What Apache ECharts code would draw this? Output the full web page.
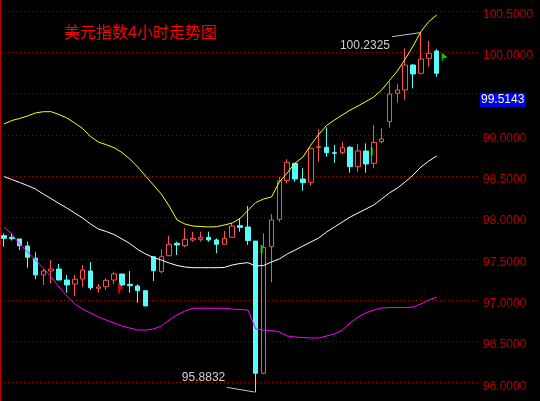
<!DOCTYPE html>
<html><head><meta charset="utf-8">
<script src="https://cdn.jsdelivr.net/npm/echarts@6/dist/echarts.min.js"></script>
<style>html,body{margin:0;padding:0;background:#000;}#c{width:540px;height:401px;}</style>
</head><body><div id="c"></div>
<script>
const titleText = '美元指数4小时走势图';
const yMin = 96, yMax = 100.5, yStep = 0.5;
const slotCount = 61; // 56 bars + empty space on the right
const categories = Array.from({length: slotCount}, (_, i) => String(i + 1));

const opens  = [97.780,97.760,97.740,97.655,97.506,97.304,97.352,97.376,97.243,97.195,97.255,97.352,97.143,97.162,97.243,97.316,97.191,97.171,97.114,97.525,97.344,97.537,97.688,97.659,97.728,97.736,97.760,97.728,97.676,97.760,97.901,97.885,97.715,96.114,97.646,97.978,98.446,98.656,98.466,98.426,98.850,98.850,98.785,98.785,98.850,98.615,98.805,98.656,98.918,99.160,99.504,99.544,99.846,99.746,99.927,100.016];
const closes = [97.748,97.743,97.659,97.518,97.304,97.352,97.376,97.243,97.183,97.252,97.364,97.150,97.159,97.240,97.316,97.183,97.174,97.114,96.929,97.356,97.525,97.676,97.667,97.736,97.748,97.760,97.728,97.676,97.748,97.897,97.881,97.722,96.114,97.639,97.970,98.442,98.668,98.466,98.421,98.838,98.857,98.785,98.777,98.845,98.615,98.805,98.648,98.910,98.950,99.495,99.544,99.846,99.737,99.919,99.988,99.746];
const lows   = [97.646,97.719,97.606,97.392,97.252,97.183,97.203,97.243,97.090,97.050,97.162,97.122,97.090,97.122,97.195,97.162,97.090,96.968,96.929,97.231,97.324,97.537,97.546,97.639,97.707,97.707,97.707,97.567,97.676,97.760,97.828,97.667,95.8832,96.102,97.215,97.949,98.414,98.433,98.324,98.385,98.676,98.736,98.663,98.765,98.542,98.554,98.542,98.596,98.898,99.087,99.390,99.423,99.564,99.734,99.826,99.705];
const highs  = [97.809,97.809,97.740,97.707,97.579,97.376,97.485,97.437,97.304,97.304,97.425,97.461,97.195,97.264,97.344,97.316,97.352,97.191,97.114,97.525,97.615,97.776,97.707,97.869,97.828,97.828,97.828,97.748,97.837,97.937,97.990,98.139,97.715,97.809,98.042,98.494,98.705,98.656,98.596,98.838,99.068,99.092,98.878,98.918,98.866,98.890,98.898,99.120,99.080,99.644,99.616,100.048,99.858,100.2325,100.137,100.036];

const upperBand  = [99.132,99.174,99.199,99.229,99.265,99.281,99.281,99.247,99.205,99.144,99.077,98.981,98.914,98.881,98.845,98.787,98.708,98.611,98.502,98.393,98.284,98.139,97.970,97.921,97.897,97.891,97.885,97.889,97.909,97.933,97.988,98.085,98.182,98.224,98.248,98.430,98.539,98.660,98.732,98.878,99.005,99.114,99.180,99.241,99.301,99.350,99.404,99.459,99.544,99.659,99.774,99.919,100.076,100.252,100.373,100.452];
const middleBand = [98.496,98.460,98.424,98.387,98.345,98.284,98.228,98.169,98.115,98.054,97.994,97.921,97.861,97.830,97.794,97.740,97.685,97.613,97.558,97.516,97.485,97.449,97.419,97.401,97.392,97.392,97.392,97.392,97.395,97.425,97.443,97.453,97.413,97.419,97.461,97.498,97.558,97.606,97.655,97.703,97.752,97.824,97.885,97.945,98.006,98.054,98.103,98.151,98.224,98.297,98.357,98.430,98.514,98.611,98.684,98.745];
const lowerBand  = [97.885,97.800,97.679,97.582,97.485,97.389,97.280,97.159,97.050,96.953,96.892,96.844,96.795,96.759,96.723,96.686,96.662,96.638,96.638,96.650,96.686,96.759,96.820,96.868,96.901,96.901,96.901,96.901,96.901,96.892,96.886,96.880,96.650,96.638,96.632,96.614,96.565,96.553,96.547,96.541,96.541,96.565,96.590,96.638,96.723,96.795,96.844,96.880,96.904,96.910,96.910,96.910,96.916,96.953,97.001,97.037];

const priceNow = 99.5143;
const highIdx = 53, lowIdx = 32;

// signal markers
const markerIdx = [33, 47, 15, 55];
const markerVal = [97.619, 98.799, 97.146, 99.943];
const markerKind = ['greenBar', 'greenBar', 'redFlag', 'greenTri'];

const candleData = opens.map((o, i) => [o, closes[i], lows[i], highs[i]]);

const markerStyles = {
  greenBar: {symbol: 'rect', symbolSize: [2, 8], symbolOffset: [-2, 0], itemStyle: {color: '#00ff00'}},
  redFlag: {symbol: 'path://M0,0 L2,0 L2,2 L6,5 L2,7 L2,10 L0,10 Z', symbolSize: [6, 10], symbolOffset: [-1, 0], itemStyle: {color: '#ff0000'}},
  greenTri: {symbol: 'path://M0,0 L6,5 L1,6 L1,9 L0,9 Z', symbolSize: [6, 9], symbolOffset: [8, 0], itemStyle: {color: '#00ff00'}}
};
const markerData = markerIdx.map((x, i) => Object.assign({value: [x, markerVal[i]]}, markerStyles[markerKind[i]]));

const chart = echarts.init(document.getElementById('c'), null, {renderer: 'canvas'});
const labelFont = '"Liberation Sans", Arial, sans-serif';
chart.setOption({
  backgroundColor: '#000',
  animation: false,
  title: {
    text: titleText, left: 59, top: 19,
    textStyle: {color: '#ff0000', fontSize: 16, fontWeight: 'normal', fontFamily: '"Noto Sans CJK SC", sans-serif'}
  },
  grid: [
    {left: -0.6, right: 60, top: 11, bottom: 18.3},
    {left: -0.6, right: 61, top: 0, bottom: 0}
  ],
  xAxis: [
    {type: 'category', data: categories, gridIndex: 0, show: false, boundaryGap: true},
    {type: 'value', gridIndex: 1, show: false, min: 0, max: 1}
  ],
  yAxis: [
    {
      type: 'value', gridIndex: 0, position: 'right', min: yMin, max: yMax, interval: yStep,
      axisLine: {show: false}, axisTick: {show: false},
      splitLine: {show: true, lineStyle: {color: '#a00000', type: [1, 3], width: 1}},
      axisLabel: {color: '#b80000', fontSize: 12, fontFamily: labelFont, margin: 3,
        verticalAlign: 'top', lineHeight: 7,
        formatter: v => (Math.abs(v - priceNow) < 0.1 ? '' : v.toFixed(4))}
    },
    {
      type: 'value', gridIndex: 1, position: 'right', min: 0, max: 1,
      axisLine: {show: true, lineStyle: {color: '#c00000', width: 1}},
      axisTick: {show: false}, axisLabel: {show: false}, splitLine: {show: false}
    }
  ],
  series: [
    {
      type: 'candlestick', data: candleData, barWidth: 5, clip: false,
      itemStyle: {color: '#000000', color0: '#54fcfc', borderColor: '#ff5050', borderColor0: '#54fcfc', borderWidth: 1},
      markLine: {
        silent: true, symbol: ['none', 'none'], animation: false,
        lineStyle: {color: 'rgba(0,0,0,0)', width: 1, type: 'solid'},
        data: [{yAxis: priceNow}],
        label: {show: true, position: 'end', distance: 0, formatter: priceNow.toFixed(4),
          color: '#ffff99', backgroundColor: '#0000ff', padding: [1, 1, 1, 1],
          fontSize: 12, fontFamily: labelFont, verticalAlign: 'top'}
      }
    },
    {type: 'line', data: upperBand, symbol: 'none', clip: false, lineStyle: {color: '#ffff00', width: 1}},
    {type: 'line', data: middleBand, symbol: 'none', clip: false, lineStyle: {color: '#ffffff', width: 1}},
    {type: 'line', data: lowerBand, symbol: 'none', clip: false, lineStyle: {color: '#ff00ff', width: 1}},
    {type: 'scatter', data: markerData, clip: false, z: 5}
  ]
});

// high / low annotations positioned through the chart's own scales
const ph = chart.convertToPixel({seriesIndex: 0}, [highIdx, highs[highIdx]]);
const pl = chart.convertToPixel({seriesIndex: 0}, [lowIdx, lows[lowIdx]]);
const annColor = '#d0d0d0';
chart.setOption({
  graphic: [
    {type: 'line', shape: {x1: ph[0] - 29, y1: ph[1] + 3.6, x2: ph[0] - 1, y2: ph[1] - 0.4}, style: {stroke: '#c0c0c0', lineWidth: 1}},
    {type: 'text', x: ph[0] - 31, y: ph[1] + 12.2, style: {text: highs[highIdx].toFixed(4), fill: annColor, font: '12px ' + labelFont, align: 'right', verticalAlign: 'middle'}},
    {type: 'line', shape: {x1: pl[0] - 29, y1: pl[1] - 5, x2: pl[0] - 1, y2: pl[1] - 0.3}, style: {stroke: '#c0c0c0', lineWidth: 1}},
    {type: 'text', x: pl[0] - 30.5, y: pl[1] - 14.3, style: {text: lows[lowIdx].toFixed(4), fill: annColor, font: '12px ' + labelFont, align: 'right', verticalAlign: 'middle'}}
  ]
});
</script>
</body></html>
